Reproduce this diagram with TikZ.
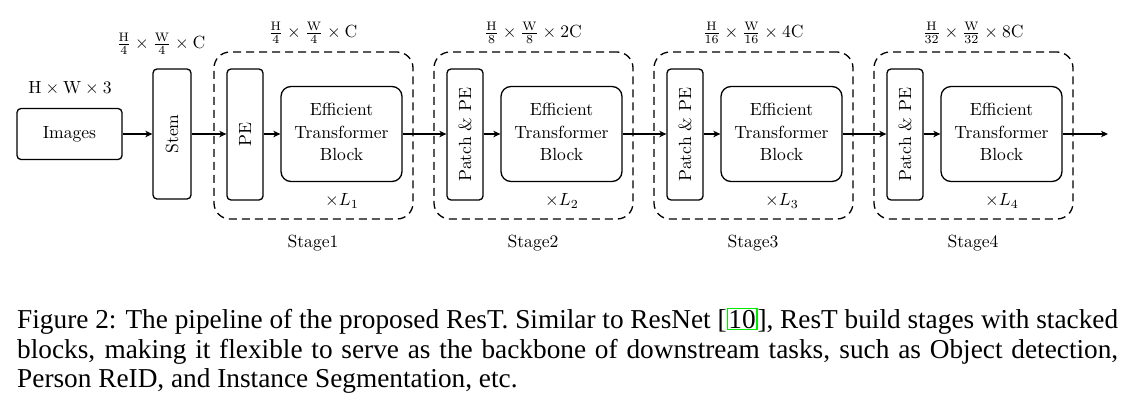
\documentclass[tikz,border=0pt]{standalone}
\usepackage{fontspec}
\newfontfamily\capfont{Liberation Serif}
\usetikzlibrary{arrows.meta}
\definecolor{linkgreen}{RGB}{0,235,0}
\newcommand{\sbx}[1]{\scalebox{1.76}{#1}}
\newcommand{\capsz}{\fontsize{27.3}{30}\selectfont}
\newcommand{\refbox}[1]{{\setlength{\fboxsep}{0.5pt}\setlength{\fboxrule}{1.3pt}\textcolor{linkgreen}{\fbox{\textcolor{black}{#1}}}}}
\begin{document}
\begin{tikzpicture}[x=1pt,y=-1pt,
  every node/.style={font=\fontsize{10}{12}\selectfont, inner sep=0pt},
  blk/.style={draw, line width=1.3pt, rounded corners=4pt},
  etbbox/.style={draw, line width=1.3pt, rounded corners=10pt, align=center,
    minimum width=121pt, minimum height=95pt},
  stagebox/.style={draw, dash pattern=on 8pt off 5pt, line width=1.3pt,
    rounded corners=16pt, minimum width=199pt, minimum height=167pt},
  arr/.style={line width=1.2pt, -{Stealth[length=7pt,width=6.5pt,inset=2pt]}},
  lbl/.style={},
  captxt/.style={anchor=base west, font=\capfont\capsz, inner sep=0pt}
]
\useasboundingbox (0,0) rectangle (1130,400);

% input and stem
\node[blk, minimum width=105pt, minimum height=51pt] (img) at (69.5,134) {\sbx{Images}};
\node[lbl] (imgdim) at (70,88) {\sbx{$\mathrm{H}\times\mathrm{W}\times3$}};
\node[blk, minimum width=38pt, minimum height=130pt] (stem) at (172,134) {\sbx{\rotatebox{90}{Stem}}};
\node[lbl] (stemdim) at (161,44) {\sbx{$\frac{\mathrm{H}}{4}\times\frac{\mathrm{W}}{4}\times\mathrm{C}$}};

% stages
\foreach \i/\pe/\dim/\L in {
  1/PE/{$\frac{\mathrm{H}}{4}\times\frac{\mathrm{W}}{4}\times\mathrm{C}$}/1,
  2/Patch \& PE/{$\frac{\mathrm{H}}{8}\times\frac{\mathrm{W}}{8}\times2\mathrm{C}$}/2,
  3/Patch \& PE/{$\frac{\mathrm{H}}{16}\times\frac{\mathrm{W}}{16}\times4\mathrm{C}$}/3,
  4/Patch \& PE/{$\frac{\mathrm{H}}{32}\times\frac{\mathrm{W}}{32}\times8\mathrm{C}$}/4}{
  \pgfmathsetmacro{\dx}{220*(\i-1)}
  \node[stagebox] (st\i) at (313.5+\dx,135.5) {};
  \node[blk, minimum width=36pt, minimum height=131pt] (pe\i) at (245+\dx,134.5) {\sbx{\rotatebox{90}{\pe}}};
  \node[etbbox] (etb\i) at (341.5+\dx,134) {\sbx{\begin{tabular}{@{}c@{}}Efficient\\[0.7pt]Transformer\\[0.7pt]Block\end{tabular}}};
  \node[lbl] (rep\i) at (342+\dx,201) {\sbx{$\times L_{\L}$}};
  \node[lbl] (name\i) at (313+\dx,243) {\sbx{Stage\i}};
  \node[lbl] (dim\i) at (313+\dx,33) {\sbx{\dim}};
}
\coordinate (out) at (1108,134);

% connectors
\draw[arr] (img.east) -- (stem.west |- img.east);
\draw[arr] (stem.east |- img.east) -- (pe1.west |- img.east);
\foreach \i in {1,2,3,4}{
  \draw[arr] (pe\i.east |- img.east) -- (etb\i.west |- img.east);
}
\foreach \i/\j in {1/2,2/3,3/4}{
  \draw[arr] (etb\i.east |- img.east) -- (pe\j.west |- img.east);
}
\draw[arr] (etb4.east |- img.east) -- (out);

% caption
\node[captxt] (cap1) at (17,328) {\makebox[1101pt][s]{Figure 2: The pipeline of the proposed ResT. Similar to ResNet [\refbox{10}], ResT build stages with stacked}};
\node[captxt] (cap2) at (17,358) {\makebox[1101pt][s]{blocks, making it flexible to serve as the backbone of downstream tasks, such as Object detection,}};
\node[captxt] (cap3) at (17,387) {Person ReID, and Instance Segmentation, etc.};
\end{tikzpicture}
\end{document}
